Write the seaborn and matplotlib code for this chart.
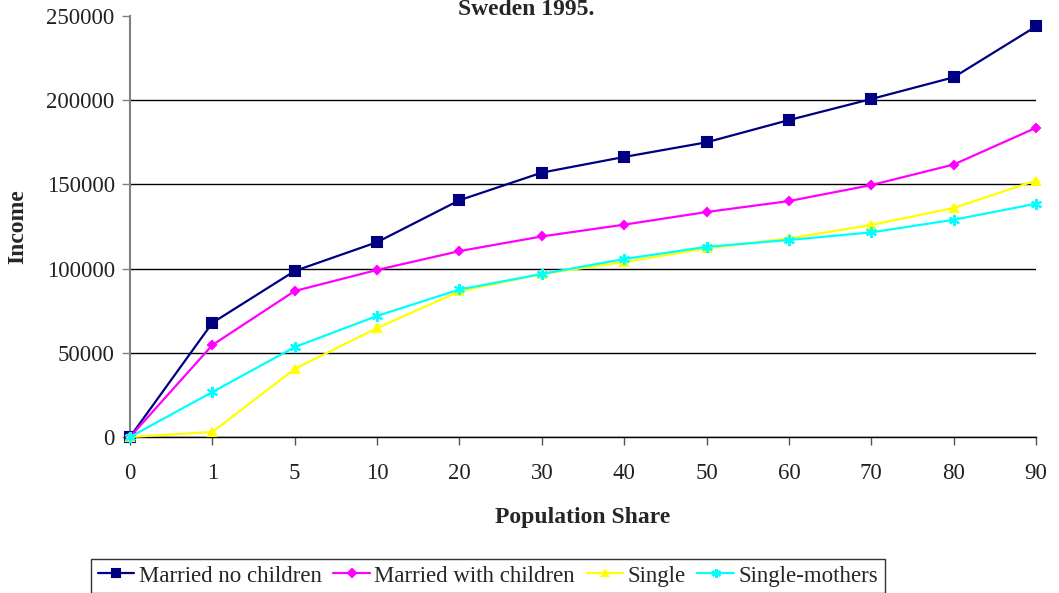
import matplotlib
matplotlib.use("Agg")
import matplotlib.pyplot as plt
import seaborn as sns
import pandas as pd

shares = ["0", "1", "5", "10", "20", "30", "40", "50", "60", "70", "80", "90"]
married_no_children = [0, 67800, 98600, 115700, 140600, 157000, 166300, 175000, 188200, 200700, 213600, 243800]
married_with_children = [0, 54600, 86700, 99200, 110400, 119100, 126100, 133600, 140100, 149600, 161800, 183600]
single = [0, 3000, 40400, 64700, 86500, 96800, 103900, 112000, 117900, 125900, 136000, 152300]
single_mothers = [0, 26700, 53400, 71900, 87600, 96800, 105700, 112900, 117000, 121500, 129000, 138500]
series_names = ["Married no children", "Married with children", "Single", "Single-mothers"]
y_ticks = [0, 50000, 100000, 150000, 200000, 250000]

sns.set_theme(style="white")
plt.rcParams["font.family"] = ["Liberation Serif", "DejaVu Serif"]

fig = plt.figure(figsize=(10.59, 5.93), dpi=100)
ax = fig.add_axes([130 / 1059, 1 - 437 / 593, (1036 - 130) / 1059, (437 - 16) / 593])

pos = list(range(len(shares)))
styles = [
    dict(color="#000080", marker="s", markersize=6.5),
    dict(color="#FF00FF", marker="D", markersize=4.5),
    dict(color="#FFFF00", marker="^", markersize=6),
    dict(color="#00FFFF", marker=(6, 2, 0), markersize=8),
]
for name, vals, st in zip(series_names, [married_no_children, married_with_children, single, single_mothers], styles):
    df = pd.DataFrame({"x": pos, "y": vals})
    sns.lineplot(data=df, x="x", y="y", ax=ax, color=st["color"], marker=st["marker"],
                 markersize=st["markersize"], markeredgecolor=st["color"], markerfacecolor=st["color"],
                 markeredgewidth=1.5, linewidth=1.6, label=name, legend=False, sort=False, clip_on=False, zorder=3)

ax.set_xlim(0, len(shares) - 1)
ax.set_ylim(0, 250000)
ax.set_xticks(pos)
ax.set_xticklabels(shares)
ax.set_yticks(y_ticks)
ax.set_yticklabels([str(v) for v in y_ticks])
ax.yaxis.grid(True, color="black", linewidth=1)
ax.xaxis.grid(False)
ax.set_axisbelow(True)
gl = ax.yaxis.get_gridlines()
gl[-1].set_visible(False)

for s in ["top", "right"]:
    ax.spines[s].set_visible(False)
ax.spines["left"].set_color("#808080")
ax.spines["left"].set_linewidth(1.5)
ax.spines["bottom"].set_color("black")
ax.spines["bottom"].set_linewidth(1)

ax.tick_params(axis="y", which="major", direction="out", length=6, width=1, color="#808080",
               labelsize=16.5, pad=5, left=True, labelcolor="#222222")
ax.tick_params(axis="x", which="major", direction="out", length=6, width=1, color="#555555",
               labelsize=16.5, pad=13, bottom=True, labelcolor="#222222")

ax.set_xlabel("Population Share", fontsize=17, fontweight="bold")
ax.set_ylabel("Income", fontsize=17, fontweight="bold")
ax.xaxis.set_label_coords(0.5, -(507 - 437) / 421)
ax.xaxis.label.set_va("top")
ax.yaxis.set_label_coords((28 - 130) / 906, 0.5)

fig.text(526 / 1059, 1 - 15 / 593, "Sweden 1995.", ha="center", va="baseline",
         fontsize=17, fontweight="bold")

handles, labels = ax.get_legend_handles_labels()
leg = fig.legend(handles, labels, loc="center", bbox_to_anchor=(488 / 1059, 1 - 576 / 593), ncol=4,
                 frameon=True, fancybox=False, edgecolor="black", fontsize=16.5,
                 handlelength=1.6, handletextpad=0.2, columnspacing=0.5, borderpad=0.3,
                 borderaxespad=0, markerscale=0.8)
leg.get_frame().set_linewidth(1)

fig.savefig("out.png", dpi=100)
